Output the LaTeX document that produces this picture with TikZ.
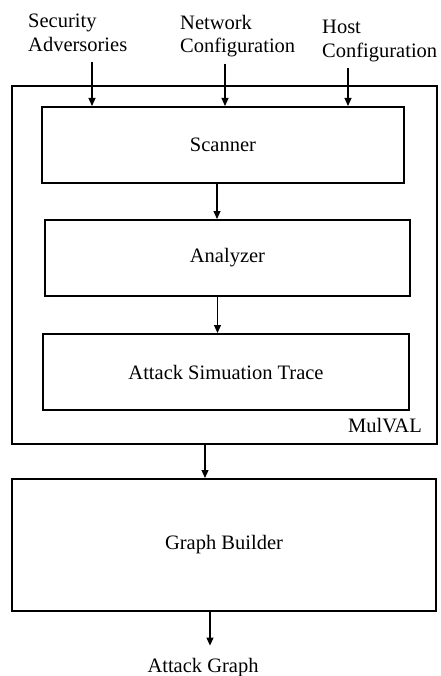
\documentclass[tikz,border=0pt]{standalone}
\usepackage{fontspec}
\setmainfont{Liberation Serif}
\usepackage{tikz}
\usetikzlibrary{arrows.meta, positioning}

\begin{document}
\begin{tikzpicture}[
  x=1pt, y=-1pt,
  box/.style={rectangle, draw, line width=2pt, inner sep=0pt,
              font=\fontsize{20.5}{23.5}\selectfont},
  frame/.style={rectangle, draw, line width=2.3pt, inner sep=0pt},
  lbl/.style={inner sep=0pt, align=left, font=\fontsize{20.5}{23.5}\selectfont},
  arr/.style={-{Triangle[length=8pt, width=7pt]}, line width=1.1pt}
]
\useasboundingbox (0,0) rectangle (440,676);

% MulVAL frame and its stages
\node[frame, minimum width=425pt, minimum height=358pt] (mulval) at (224.5,265) {};
\node[box, minimum width=362pt, minimum height=76pt] (scanner) at (223,145) {Scanner};
\node[box, minimum width=365pt, minimum height=76pt] (analyzer) at (227.5,258) {Analyzer};
\node[box, minimum width=366pt, minimum height=76pt] (trace) at (226,372) {Attack Simuation Trace};
\node[lbl, anchor=base east] (mulvallbl) at (422,432) {MulVAL};

% Graph builder
\node[box, minimum width=424pt, minimum height=132pt] (builder) at (224,545) {Graph Builder};
\node[lbl, anchor=base] (graph) at (203,672) {Attack Graph};

% Inputs
\node[lbl, anchor=north west] (secadv) at (28,14) {Security\\Adversories};
\node[lbl, anchor=north west] (netcfg) at (180,15) {Network\\Configuration};
\node[lbl, anchor=north west] (hostcfg) at (322,20) {Host\\Configuration};

\draw[arr] ([xshift=64pt, yshift=-10pt]secadv.south west) -- ([xshift=64pt]secadv.south west |- scanner.north);
\draw[arr] ([xshift=45pt, yshift=-6pt]netcfg.south west) -- ([xshift=45pt]netcfg.south west |- scanner.north);
\draw[arr] ([xshift=26pt, yshift=-6pt]hostcfg.south west) -- ([xshift=26pt]hostcfg.south west |- scanner.north);

\draw[arr] ([xshift=-6pt]scanner.south) -- ([xshift=-6pt]scanner.south |- analyzer.north);
\draw[arr] ([xshift=-10pt]analyzer.south) -- ([xshift=-10pt]analyzer.south |- trace.north);
\draw[arr] ([xshift=-19.5pt]mulval.south) -- ([xshift=-19.5pt]mulval.south |- builder.north);
\draw[arr] ([xshift=-14pt]builder.south) -- ([xshift=-14pt, yshift=12pt]builder.south |- graph.north);

\end{tikzpicture}
\end{document}
